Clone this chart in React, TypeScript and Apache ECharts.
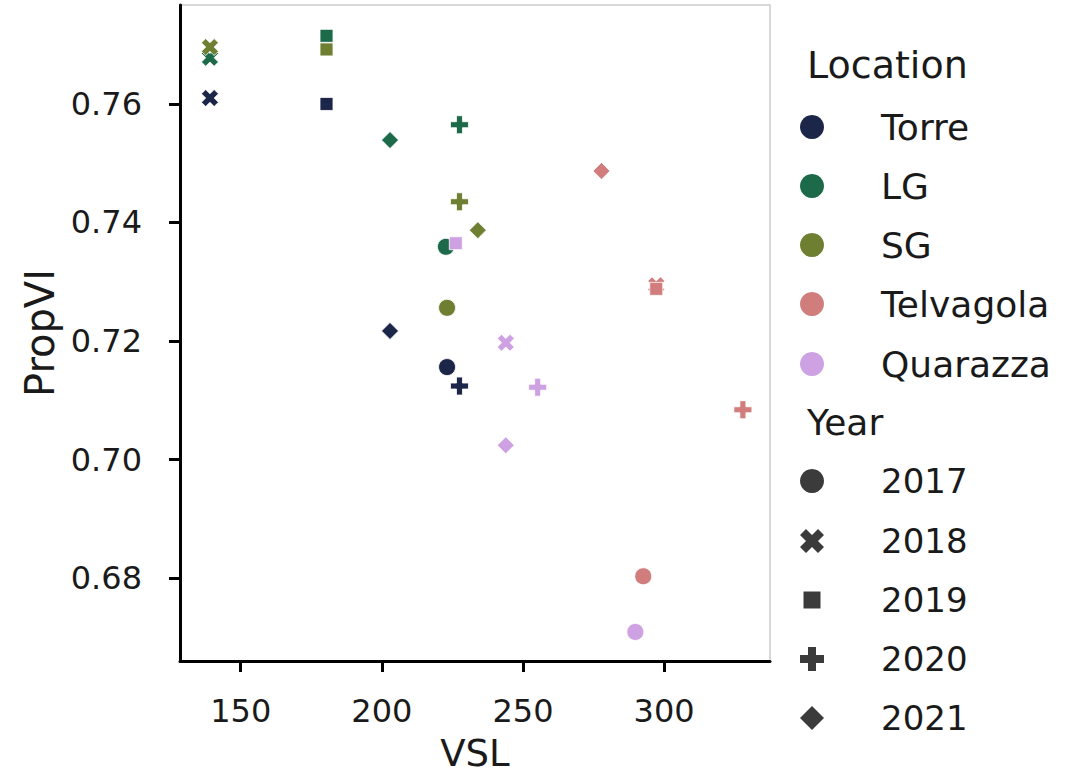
import React, { useEffect, useRef } from 'react';
import * as echarts from 'echarts';

const years = ['2017', '2018', '2019', '2020', '2021'];
const locations = ['Torre', 'LG', 'SG', 'Telvagola', 'Quarazza'];
const locationColors = ['#1c2648', '#1d6a4a', '#6f7f32', '#d17d7d', '#cea2e2'];

// VSL / PropVI per location, indexed by year (2017..2021)
const torreVSL = [223.1, 139.1, 180.4, 227.5, 202.9];
const torrePropVI = [0.7156, 0.761, 0.76, 0.7124, 0.7217];
const lgVSL = [222.7, 139.1, 180.4, 227.5, 202.9];
const lgPropVI = [0.7359, 0.7678, 0.7715, 0.7565, 0.7539];
const sgVSL = [223.1, 139.1, 180.4, 227.5, 234.0];
const sgPropVI = [0.7256, 0.7696, 0.7692, 0.7435, 0.7387];
const telvagolaVSL = [292.6, 297.2, 297.2, 327.9, 277.8];
const telvagolaPropVI = [0.6803, 0.7294, 0.7288, 0.7084, 0.7487];
const quarazzaVSL = [289.8, 243.9, 226.2, 255.2, 243.9];
const quarazzaPropVI = [0.6709, 0.7197, 0.7365, 0.7122, 0.7024];

const xTicks = [150, 200, 250, 300];
const yTicks = [0.68, 0.7, 0.72, 0.74, 0.76];

const vslByLoc = [torreVSL, lgVSL, sgVSL, telvagolaVSL, quarazzaVSL];
const propByLoc = [torrePropVI, lgPropVI, sgPropVI, telvagolaPropVI, quarazzaPropVI];

const X_UNIT = [[1, 0], [2, 1], [3, 0], [4, 1], [3, 2], [4, 3], [3, 4], [2, 3], [1, 4], [0, 3], [1, 2], [0, 1]];
const PLUS_UNIT = [[2, 0], [4, 0], [4, 2], [6, 2], [6, 4], [4, 4], [4, 6], [2, 6], [2, 4], [0, 4], [0, 2], [2, 2]];
const toPath = (pts: number[][]) => 'path://M' + pts.map((p) => p[0] + ',' + p[1]).join('L') + 'Z';

const yearSymbols = ['circle', toPath(X_UNIT), 'rect', toPath(PLUS_UNIT), 'diamond'];
const yearSizes = [17, 17, 13, 18, 17];

const FONT = 'DejaVu Sans';
const TEXT = '#1a1a1a';
const YEAR_ICON = '#3b3b3b';

function iconGraphic(k: number, cx: number, cy: number, color: string) {
  const s = 24;
  if (k === 0) return { type: 'circle', shape: { cx, cy, r: 12 }, style: { fill: color } };
  if (k === 2) return { type: 'rect', shape: { x: cx - 8.5, y: cy - 8.5, width: 17, height: 17 }, style: { fill: color } };
  if (k === 4)
    return {
      type: 'polygon',
      shape: { points: [[cx, cy - 12], [cx + 12, cy], [cx, cy + 12], [cx - 12, cy]] },
      style: { fill: color },
    };
  const unit = k === 1 ? X_UNIT : PLUS_UNIT;
  const span = k === 1 ? 4 : 6;
  const pts = unit.map((p) => [cx - s / 2 + (p[0] * s) / span, cy - s / 2 + (p[1] * s) / span]);
  return { type: 'polygon', shape: { points: pts }, style: { fill: color } };
}

export default function App() {
  const ref = useRef<HTMLDivElement>(null);
  useEffect(() => {
    if (!ref.current) return;
    const chart = echarts.init(ref.current, null, { renderer: 'svg' });

    const series = locations.map((loc, li) => ({
      name: loc,
      type: 'scatter',
      itemStyle: { color: locationColors[li], borderColor: '#ffffff', borderWidth: 0.8, opacity: 1 },
      emphasis: { disabled: true },
      data: years.map((y, yi) => ({
        name: y,
        value: [vslByLoc[li][yi], propByLoc[li][yi]],
        symbol: yearSymbols[yi],
        symbolSize: yearSizes[yi],
      })),
    }));

    const legendX = 812;
    const textX = 881;
    const locRows = [127, 186, 245, 304, 364];
    const yearRows = [481, 541, 600, 659, 718];
    const graphics: any[] = [];
    graphics.push({
      type: 'text',
      x: 807,
      y: 65,
      style: { text: 'Location', font: `38px "${FONT}"`, fill: TEXT, verticalAlign: 'middle', align: 'left' },
    });
    locations.forEach((loc, i) => {
      graphics.push(iconGraphic(0, legendX, locRows[i], locationColors[i]));
      graphics.push({
        type: 'text',
        x: textX,
        y: locRows[i],
        style: { text: loc, font: `36px "${FONT}"`, fill: TEXT, verticalAlign: 'middle', align: 'left' },
      });
    });
    graphics.push({
      type: 'text',
      x: 807,
      y: 422,
      style: { text: 'Year', font: `36px "${FONT}"`, fill: TEXT, verticalAlign: 'middle', align: 'left' },
    });
    years.forEach((y, i) => {
      graphics.push(iconGraphic(i, legendX, yearRows[i], YEAR_ICON));
      graphics.push({
        type: 'text',
        x: textX,
        y: yearRows[i],
        style: { text: y, font: `34px "${FONT}"`, fill: TEXT, verticalAlign: 'middle', align: 'left' },
      });
    });

    chart.setOption({
      animation: false,
      backgroundColor: '#ffffff',
      textStyle: { fontFamily: FONT },
      grid: {
        left: 180,
        right: 314,
        top: 5,
        bottom: 115,
        show: true,
        borderColor: '#cccccc',
        borderWidth: 1.5,
        backgroundColor: 'transparent',
        containLabel: false,
        outerBoundsMode: 'none',
      },
      xAxis: {
        type: 'value',
        min: 128.5,
        max: 337.5,
        name: 'VSL',
        nameLocation: 'middle',
        nameGap: 74,
        nameTextStyle: { fontSize: 37, color: TEXT, fontFamily: FONT },
        axisLine: { show: true, onZero: false, lineStyle: { color: '#000', width: 3 } },
        axisTick: { show: true, length: 11, lineStyle: { color: '#000', width: 3 }, customValues: xTicks },
        axisLabel: { fontSize: 32, color: TEXT, margin: 34, fontFamily: FONT, customValues: xTicks },
        splitLine: { show: false },
      },
      yAxis: {
        type: 'value',
        min: 0.666,
        max: 0.7767,
        name: 'PropVI',
        nameLocation: 'middle',
        nameGap: 120,
        nameTextStyle: { fontSize: 40, color: TEXT, fontFamily: FONT },
        axisLine: { show: true, onZero: false, lineStyle: { color: '#000', width: 3 } },
        axisTick: { show: true, length: 11, lineStyle: { color: '#000', width: 3 }, customValues: yTicks },
        axisLabel: {
          fontSize: 32,
          color: TEXT,
          margin: 38,
          fontFamily: FONT,
          customValues: yTicks,
          formatter: (v: number) => v.toFixed(2),
        },
        splitLine: { show: false },
      },
      series,
      graphic: graphics,
    });
    return () => chart.dispose();
  }, []);
  return <div ref={ref} style={{ position: 'fixed', left: 0, top: 0, width: 1084, height: 776 }} />;
}
